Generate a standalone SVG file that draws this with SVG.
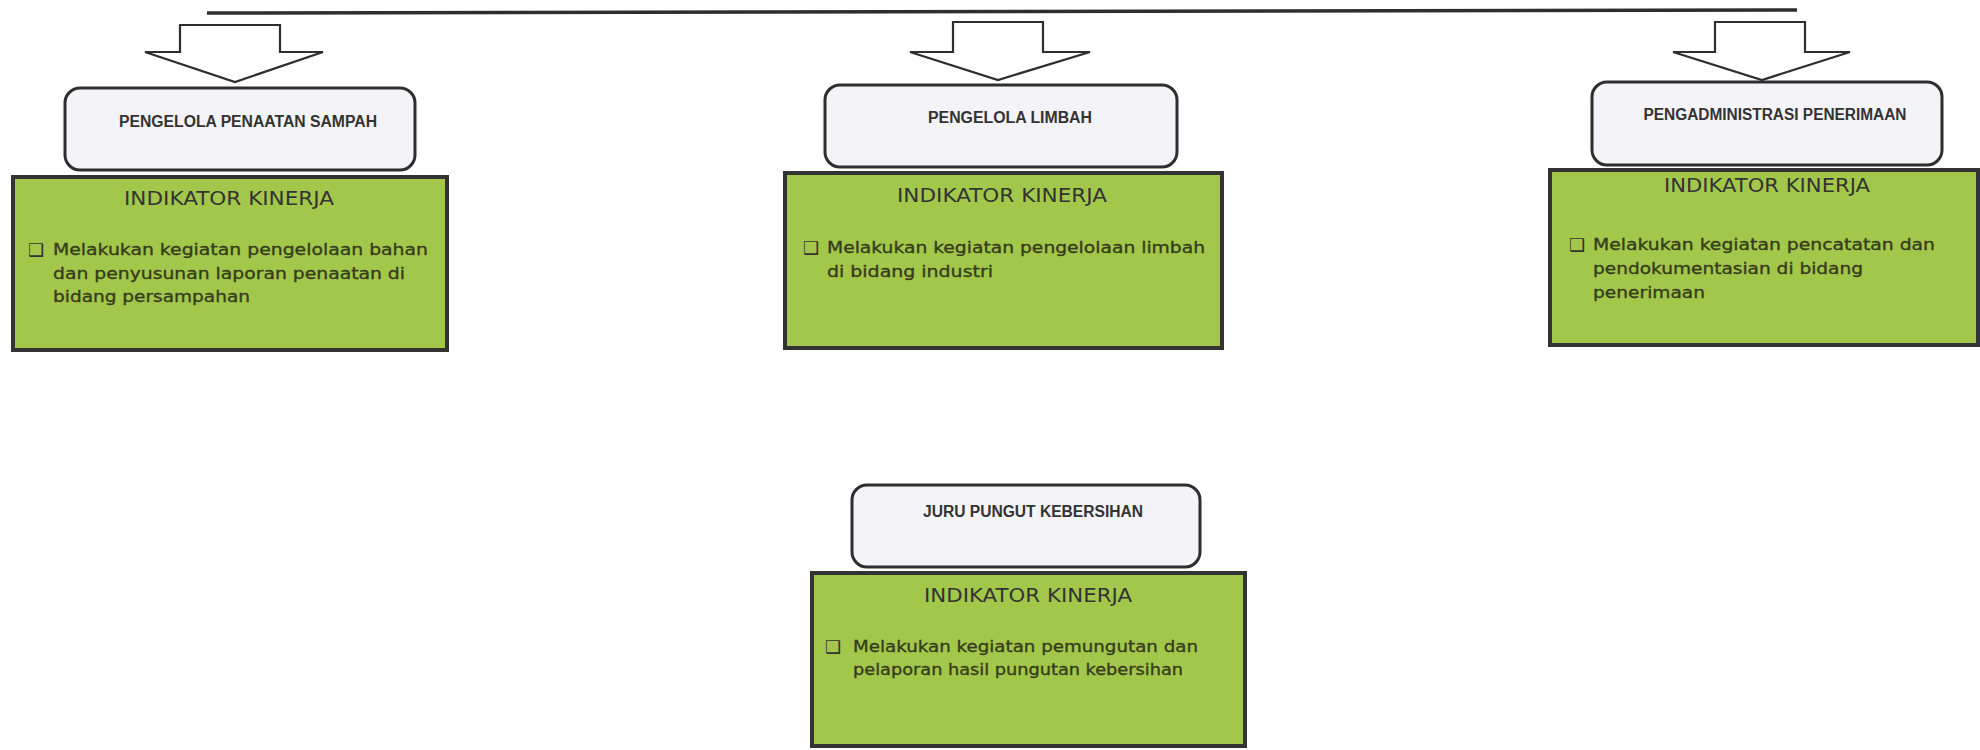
<svg xmlns="http://www.w3.org/2000/svg" width="1980" height="750" viewBox="0 0 1980 750">
<style>
.role{fill:#f4f3f8;stroke:#2e2e2e;stroke-width:3}
.ind{fill:#a3c74a;stroke:#333;stroke-width:4}
.arr{fill:#fff;stroke:#2e2e2e;stroke-width:2.2;stroke-linejoin:miter}
.bar{stroke:#2e2e2e;stroke-width:3.5;fill:none}
.t{font-family:"Liberation Sans",Arial,sans-serif;font-weight:bold;font-size:16px;fill:#333;text-anchor:middle}
.h{font-family:"DejaVu Sans",Verdana,sans-serif;font-size:20px;fill:#333;text-anchor:middle}
.b{font-family:"DejaVu Sans",Verdana,sans-serif;font-size:16px;fill:#363c1c;stroke:#363c1c;stroke-width:0.35}
.q{font-family:"DejaVu Sans",sans-serif;font-size:18px;fill:#333}
</style>
<rect width="1980" height="750" fill="#ffffff"/>
<g id="connectors">
<line class="bar" x1="207" y1="13" x2="1797" y2="10"/>
<polygon class="arr" points="180,25 280,25 280,52 323,52 235,82 145,52 180,52"/>
<polygon class="arr" points="953,22 1043,22 1043,52 1090,52 998,80 910,52 953,52"/>
<polygon class="arr" points="1715,22 1805,22 1805,52 1850,52 1762,80 1673,52 1715,52"/>
</g>
<g id="node1">
<rect class="role" x="65" y="88" width="350" height="82" rx="15"/>
<text class="t" x="248" y="127" textLength="258" lengthAdjust="spacingAndGlyphs">PENGELOLA PENAATAN SAMPAH</text>
<rect class="ind" x="13" y="177" width="434" height="173"/>
<text class="h" x="229" y="205" textLength="210" lengthAdjust="spacingAndGlyphs">INDIKATOR KINERJA</text>
<text class="q" x="28" y="256">❑</text>
<text class="b" x="53" y="255" textLength="375" lengthAdjust="spacingAndGlyphs">Melakukan kegiatan pengelolaan bahan</text>
<text class="b" x="53" y="279" textLength="352" lengthAdjust="spacingAndGlyphs">dan penyusunan laporan penaatan di</text>
<text class="b" x="53" y="302" textLength="197" lengthAdjust="spacingAndGlyphs">bidang persampahan</text>
</g>
<g id="node2">
<rect class="role" x="825" y="85" width="352" height="82" rx="15"/>
<text class="t" x="1010" y="123" textLength="164" lengthAdjust="spacingAndGlyphs">PENGELOLA LIMBAH</text>
<rect class="ind" x="785" y="173" width="437" height="175"/>
<text class="h" x="1002" y="202" textLength="210" lengthAdjust="spacingAndGlyphs">INDIKATOR KINERJA</text>
<text class="q" x="803" y="254">❑</text>
<text class="b" x="827" y="253" textLength="378" lengthAdjust="spacingAndGlyphs">Melakukan kegiatan pengelolaan limbah</text>
<text class="b" x="827" y="277" textLength="166" lengthAdjust="spacingAndGlyphs">di bidang industri</text>
</g>
<g id="node3">
<rect class="role" x="1592" y="82" width="350" height="83" rx="15"/>
<text class="t" x="1775" y="120" textLength="263" lengthAdjust="spacingAndGlyphs">PENGADMINISTRASI PENERIMAAN</text>
<rect class="ind" x="1550" y="170" width="428" height="175"/>
<text class="h" x="1767" y="192" textLength="206" lengthAdjust="spacingAndGlyphs">INDIKATOR KINERJA</text>
<text class="q" x="1569" y="251">❑</text>
<text class="b" x="1593" y="250" textLength="342" lengthAdjust="spacingAndGlyphs">Melakukan kegiatan pencatatan dan</text>
<text class="b" x="1593" y="274" textLength="270" lengthAdjust="spacingAndGlyphs">pendokumentasian di bidang</text>
<text class="b" x="1593" y="298" textLength="112" lengthAdjust="spacingAndGlyphs">penerimaan</text>
</g>
<g id="node4">
<rect class="role" x="852" y="485" width="348" height="82" rx="15"/>
<text class="t" x="1033" y="517" textLength="220" lengthAdjust="spacingAndGlyphs">JURU PUNGUT KEBERSIHAN</text>
<rect class="ind" x="812" y="573" width="433" height="173"/>
<text class="h" x="1028" y="602" textLength="208" lengthAdjust="spacingAndGlyphs">INDIKATOR KINERJA</text>
<text class="q" x="825" y="653">❑</text>
<text class="b" x="853" y="652" textLength="345" lengthAdjust="spacingAndGlyphs">Melakukan kegiatan pemungutan dan</text>
<text class="b" x="853" y="675" textLength="330" lengthAdjust="spacingAndGlyphs">pelaporan hasil pungutan kebersihan</text>
</g>
</svg>
